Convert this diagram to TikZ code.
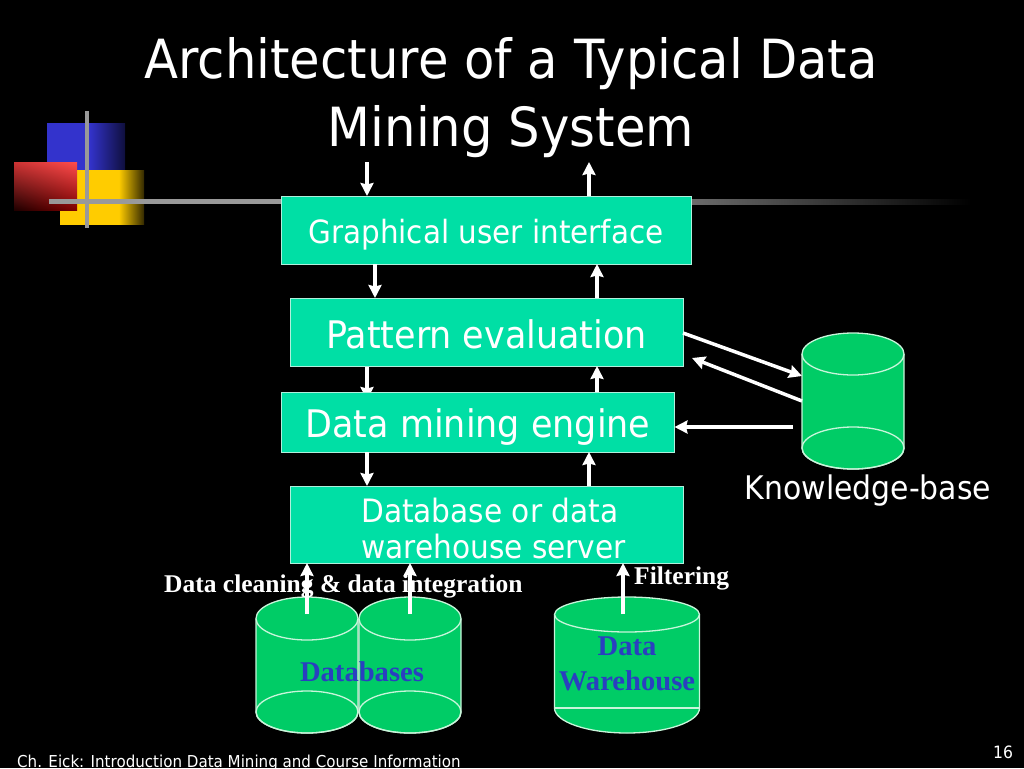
\documentclass[tikz,border=0pt]{standalone}
\usepackage{fontspec}
\setmainfont{DejaVu Sans}[FakeStretch=0.92]
\newfontfamily\timesbf{Liberation Serif}[BoldFont=Liberation Serif Bold]
\usetikzlibrary{arrows.meta,shadings,backgrounds}
\definecolor{boxgreen}{HTML}{00DFA5}
\definecolor{boxedge}{HTML}{B0F0DC}
\definecolor{cylgreen}{HTML}{00CC66}
\definecolor{cyledge}{HTML}{C8F5DA}
\definecolor{dbblue}{HTML}{2A3FC0}
\definecolor{logogrey}{HTML}{999999}
\definecolor{logoblue}{HTML}{3333CC}
\definecolor{logoyellow}{HTML}{FFCC00}
\pgfdeclarehorizontalshading{bluefade}{100bp}{color(0bp)=(logoblue); color(52bp)=(logoblue); color(75bp)=(logoblue!30!black); color(100bp)=(logoblue!30!black)}
\pgfdeclarehorizontalshading{yellowfade}{100bp}{color(0bp)=(logoyellow); color(60bp)=(logoyellow); color(75bp)=(logoyellow!20!black); color(100bp)=(logoyellow!20!black)}
\tikzset{
	box/.style={draw=boxedge, line width=0.8pt, fill=boxgreen, text=white, inner sep=0pt, outer sep=0pt, text depth=0pt},
	flow/.style={draw=white, line width=3.5pt, -{Stealth[length=13pt, width=13pt, inset=1.5pt]}},
	cyl/.style={draw=cyledge, line width=1.3pt},
	whitetext/.style={text=white, inner sep=0pt},
	serifbf/.style={text=white, font=\timesbf\bfseries\fontsize{25.5}{25.5}\selectfont, inner sep=0pt},
	bluebf/.style={text=dbblue, font=\timesbf\bfseries\fontsize{28.6}{35}\selectfont, inner sep=0pt, align=center}
}
% centre x, half width, y of top and bottom ellipse, radii
\newcommand{\dbcyl}[6]{
	\fill[cylgreen] (#1-#2,#3) -- (#1-#2,#4) arc[start angle=180, end angle=0, x radius=#2, y radius=#6] -- (#1+#2,#3) -- cycle;
	\draw[cyl] (#1-#2,#3) -- (#1-#2,#4) arc[start angle=180, end angle=0, x radius=#2, y radius=#6] -- (#1+#2,#3);
	\draw[cyl, fill=cylgreen] (#1,#3) ellipse[x radius=#2, y radius=#5];
}
\begin{document}
\begin{tikzpicture}[x=1pt, y=-1pt]
	\begin{scope}[on background layer]
		\fill[black] (0,0) rectangle (1024,768);
	\end{scope}
	\useasboundingbox (0,0) rectangle (1024,768);
	% logo
	\shade[shading=bluefade] (47,123) rectangle (125,175);
	\shade[shading=yellowfade] (60,170) rectangle (144,224);
	\shade[upper right=red!70!white, upper left=red!60!gray, lower right=red!50!black, lower left=red!12!black] (14,162) rectangle (77,210);
	\fill[logogrey] (85,111) rectangle (89,228);
	\fill[logogrey] (49,199) rectangle (282,204);
	\shade[left color=logogrey!70!black, right color=black] (690,199) rectangle (971,204);
	% title
	\node[whitetext, font=\fontsize{54}{68}\selectfont, align=center] (title) at (511,97.5) {Architecture of a Typical Data\\Mining System};
	% boxes
	\node[box, minimum width=410pt, minimum height=68pt, font=\fontsize{32}{32}\selectfont, text height=26pt] (gui) at (486,230) {Graphical user interface};
	\node[box, minimum width=393pt, minimum height=68pt, font=\fontsize{38}{38}\selectfont, text height=32pt] (pattern) at (486.5,332) {Pattern evaluation};
	\node[box, minimum width=393pt, minimum height=60pt, font=\fontsize{38}{38}\selectfont, text height=30pt] (engine) at (478,422) {Data mining engine};
	\node[box, minimum width=393pt, minimum height=77pt] (server) at (486.5,524.5) {};
	\node[whitetext, font=\fontsize{32.2}{36}\selectfont, align=left, anchor=west] (servertext) at (361,528) {Database or data\\warehouse server};
	% cylinders
	\dbcyl{853}{51}{354}{448}{21}{21}
	\draw[cyl] (853,448) ellipse[x radius=51, y radius=21];
	\dbcyl{307}{51}{618.5}{712}{21.5}{21}
	\draw[cyl] (307,712) ellipse[x radius=51, y radius=21];
	\dbcyl{410}{51}{618.5}{712}{21.5}{21}
	\draw[cyl] (410,712) ellipse[x radius=51, y radius=21];
	\dbcyl{627}{72.5}{614.5}{708}{17.5}{25}
	\draw[cyl] (554.5,708) -- (699.5,708);
	\coordinate (kbOut) at (802,401);
	\coordinate (kbIn) at (802,376);
	\coordinate (kbEngine) at (793,427);
	\coordinate (guiIn) at (367,162);
	\coordinate (guiOut) at (589,162);
	\coordinate (guiDown) at (375,0);
	\coordinate (guiUp) at (597,0);
	\coordinate (engDown) at (367,0);
	\coordinate (engUp) at (589,0);
	\coordinate (dbLeft) at (307,614);
	\coordinate (dbRight) at (410,614);
	\coordinate (dwUp) at (623,614);
	% labels
	\node[whitetext, font=\fontsize{32.5}{32}\selectfont] (kblabel) at (868,491) {Knowledge-base};
	\node[serifbf, anchor=base west] (cleanlabel) at (164,592) {Data cleaning \& data integration};
	\node[serifbf, anchor=base west] (filterlabel) at (634,584) {Filtering};
	\node[bluebf] (dblabel) at (362,672) {Databases};
	\node[bluebf] (dwlabel) at (627,664) {Data\\Warehouse};
	% arrows
	\draw[flow] (guiIn) -- (guiIn |- gui.north);
	\draw[flow] (guiOut |- gui.north) -- (guiOut);
	\draw[flow] (guiDown |- gui.south) -- (guiDown |- pattern.north);
	\draw[flow] (guiUp |- pattern.north) -- (guiUp |- gui.south);
	\begin{scope}[on background layer]
		\draw[flow] (engDown |- pattern.south) -- (engDown |- 0,400);
	\end{scope}
	\draw[flow] (guiUp |- engine.north) -- (guiUp |- pattern.south);
	\draw[flow] (engDown |- engine.south) -- (engDown |- server.north);
	\draw[flow] (engUp |- server.north) -- (engUp |- engine.south);
	\draw[flow] (pattern.east |- 0,333) -- (kbIn);
	\draw[flow] (kbOut) -- (692,358);
	\draw[flow] (kbEngine) -- (kbEngine -| engine.east);
	\draw[flow] (dbLeft) -- (dbLeft |- server.south);
	\draw[flow] (dbRight) -- (dbRight |- server.south);
	\draw[flow] (dwUp) -- (dwUp |- server.south);
	% footer
	\node[whitetext, font=\fontsize{16.4}{16}\selectfont, anchor=base west] (footer) at (17,767) {Ch. Eick: Introduction Data Mining and Course Information};
	\node[whitetext, font=\fontsize{17}{17}\selectfont, anchor=base west] (pageno) at (993,758) {16};
\end{tikzpicture}
\end{document}
